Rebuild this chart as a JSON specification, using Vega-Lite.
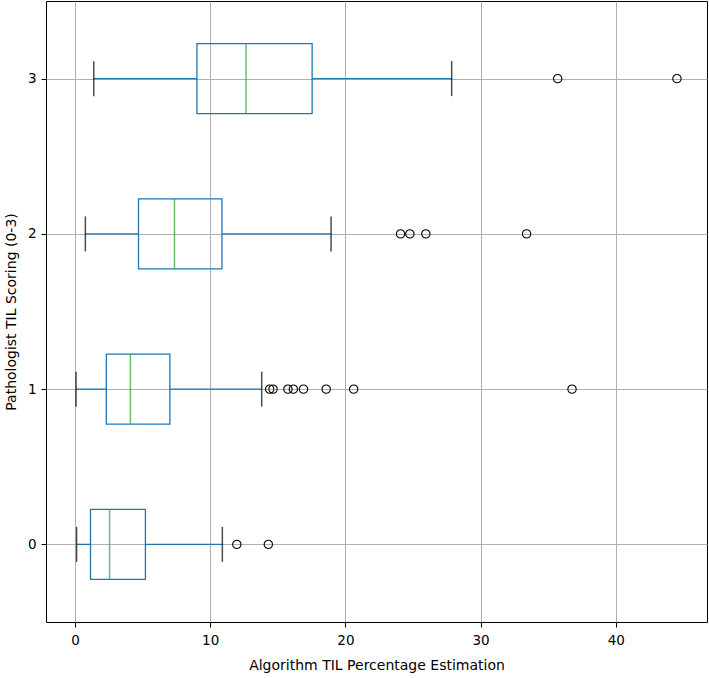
{
  "$schema": "https://vega.github.io/schema/vega-lite/v6.json",
  "width": 661,
  "height": 621,
  "autosize": {"type": "none"},
  "padding": {"left": 46, "top": 1, "right": 2, "bottom": 56},
  "background": "white",
  "config": {
    "view": {"stroke": "#000000", "strokeWidth": 1},
    "axis": {
      "domain": false,
      "grid": true,
      "gridColor": "#b0b0b0",
      "gridWidth": 1,
      "tickColor": "#000000",
      "tickSize": 5,
      "labelFont": "DejaVu Sans",
      "labelFontSize": 13.5,
      "labelColor": "#000000",
      "titleFont": "DejaVu Sans",
      "titleFontSize": 14,
      "titleFontWeight": "normal",
      "titleColor": "#000000"
    }
  },
  "datasets": {
    "boxes": [
      {"group": 0, "lo": 0.12, "q1": 1.15, "med": 2.56, "q3": 5.21, "hi": 10.9},
      {"group": 1, "lo": 0.08, "q1": 2.32, "med": 4.1, "q3": 7.02, "hi": 13.81},
      {"group": 2, "lo": 0.77, "q1": 4.7, "med": 7.36, "q3": 10.87, "hi": 18.94},
      {"group": 3, "lo": 1.39, "q1": 9.02, "med": 12.65, "q3": 17.54, "hi": 27.86}
    ],
    "outliers": [
      {"group": 0, "value": 11.97},
      {"group": 0, "value": 14.3},
      {"group": 1, "value": 14.4},
      {"group": 1, "value": 14.65},
      {"group": 1, "value": 15.75},
      {"group": 1, "value": 16.15},
      {"group": 1, "value": 16.9},
      {"group": 1, "value": 18.58},
      {"group": 1, "value": 20.61},
      {"group": 1, "value": 36.76},
      {"group": 2, "value": 24.08},
      {"group": 2, "value": 24.77},
      {"group": 2, "value": 25.95},
      {"group": 2, "value": 33.4},
      {"group": 3, "value": 35.7},
      {"group": 3, "value": 44.52}
    ]
  },
  "encoding": {
    "y": {
      "field": "group",
      "type": "quantitative",
      "scale": {"domain": [-0.5, 3.5], "nice": false, "zero": false, "padding": 0},
      "axis": {"values": [0, 1, 2, 3], "title": "Pathologist TIL Scoring (0-3)", "titlePadding": 9, "labelPadding": 5}
    }
  },
  "layer": [
    {
      "data": {"name": "boxes"},
      "mark": {"type": "rule", "color": "#1f77b4", "strokeWidth": 1.3},
      "encoding": {
        "x": {
          "field": "lo",
          "type": "quantitative",
          "scale": {"domain": [-2.142, 46.742], "nice": false, "zero": false, "padding": 0},
          "axis": {"values": [0, 10, 20, 30, 40], "title": "Algorithm TIL Percentage Estimation", "titlePadding": 12, "labelPadding": 6}
        },
        "x2": {"field": "q1"}
      }
    },
    {
      "data": {"name": "boxes"},
      "mark": {"type": "rule", "color": "#1f77b4", "strokeWidth": 1.3},
      "encoding": {
        "x": {"field": "q3", "type": "quantitative"},
        "x2": {"field": "hi"}
      }
    },
    {
      "data": {"name": "boxes"},
      "mark": {"type": "tick", "orient": "vertical", "size": 35, "thickness": 1.5, "color": "#000000"},
      "encoding": {"x": {"field": "lo", "type": "quantitative"}}
    },
    {
      "data": {"name": "boxes"},
      "mark": {"type": "tick", "orient": "vertical", "size": 35, "thickness": 1.5, "color": "#000000"},
      "encoding": {"x": {"field": "hi", "type": "quantitative"}}
    },
    {
      "data": {"name": "boxes"},
      "mark": {"type": "bar", "orient": "horizontal", "size": 70, "fill": "#ffffff", "fillOpacity": 0, "stroke": "#1f77b4", "strokeWidth": 1.3},
      "encoding": {
        "x": {"field": "q1", "type": "quantitative"},
        "x2": {"field": "q3"}
      }
    },
    {
      "data": {"name": "boxes"},
      "mark": {"type": "tick", "orient": "vertical", "size": 70, "thickness": 1.5, "color": "#2ca02c"},
      "encoding": {"x": {"field": "med", "type": "quantitative"}}
    },
    {
      "data": {"name": "outliers"},
      "mark": {"type": "point", "shape": "circle", "filled": false, "stroke": "#000000", "strokeWidth": 1.1, "size": 70, "opacity": 1},
      "encoding": {"x": {"field": "value", "type": "quantitative"}}
    }
  ]
}
